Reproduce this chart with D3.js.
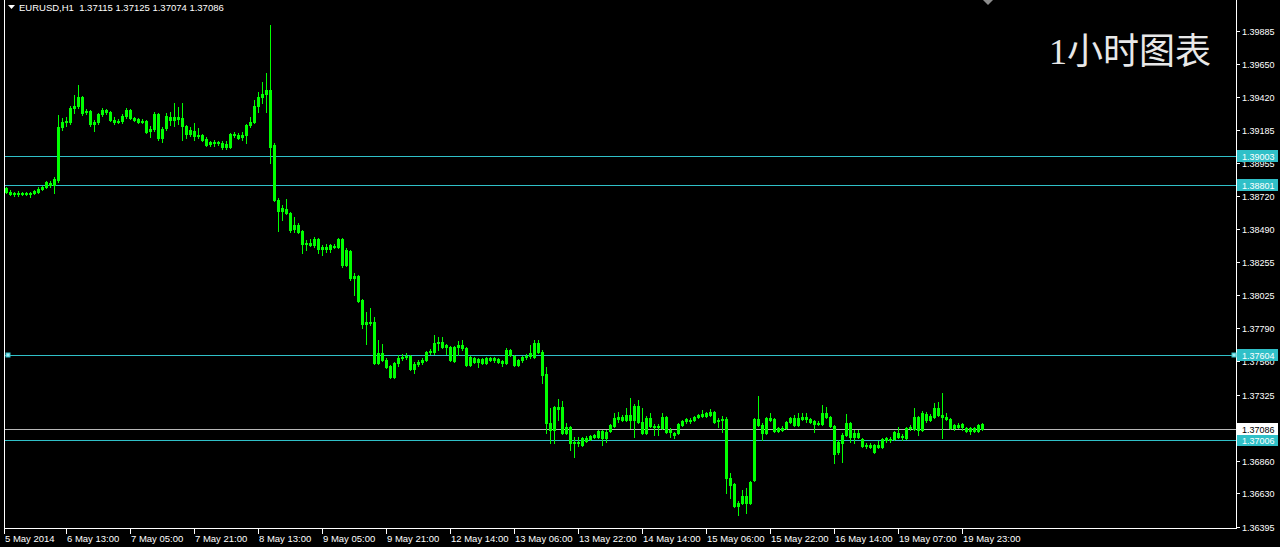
<!DOCTYPE html>
<html><head><meta charset="utf-8">
<script src="https://cdn.jsdelivr.net/npm/d3@7/dist/d3.min.js"></script>
<style>html,body{margin:0;padding:0;background:#000;overflow:hidden}text{white-space:pre}</style>
</head><body>
<svg id="c" width="1280" height="547"></svg>
<script>
const symbolTitle = "EURUSD,H1  1.37115 1.37125 1.37074 1.37086";
const overlayTitle = "1小时图表";

const opens = [
1.38778,1.38750,1.38736,1.38743,1.38736,1.38743,1.38736,1.38743,1.38750,1.38771,
1.38785,1.38813,1.38799,1.38834,1.39207,1.39242,1.39242,1.39341,1.39355,1.39418,
1.39312,1.39319,1.39228,1.39242,1.39298,1.39327,1.39312,1.39256,1.39242,1.39249,
1.39284,1.39327,1.39270,1.39263,1.39242,1.39249,1.39179,1.39193,1.39298,1.39130,
1.39200,1.39277,1.39256,1.39277,1.39270,1.39214,1.39158,1.39179,1.39144,1.39151,
1.39123,1.39087,1.39094,1.39094,1.39094,1.39066,1.39066,1.39158,1.39151,1.39137,
1.39151,1.39221,1.39242,1.39355,1.39418,1.39439,1.39467,1.39080,1.38694,1.38616,
1.38630,1.38602,1.38490,1.38518,1.38476,1.38384,1.38391,1.38377,1.38419,1.38349,
1.38363,1.38349,1.38370,1.38363,1.38419,1.38236,1.38335,1.38145,1.38159,1.37990,
1.37822,1.37836,1.37836,1.37547,1.37618,1.37568,1.37526,1.37449,1.37547,1.37583,
1.37590,1.37597,1.37505,1.37540,1.37554,1.37568,1.37625,1.37625,1.37688,1.37695,
1.37660,1.37660,1.37561,1.37660,1.37674,1.37653,1.37533,1.37583,1.37554,1.37575,
1.37547,1.37583,1.37568,1.37575,1.37561,1.37547,1.37639,1.37597,1.37533,1.37568,
1.37590,1.37597,1.37590,1.37688,1.37625,1.37470,1.37126,1.37076,1.37238,1.37238,
1.37055,1.37097,1.36985,1.36992,1.36971,1.37020,1.37013,1.37027,1.37027,1.37069,
1.37020,1.37069,1.37104,1.37154,1.37168,1.37147,1.37182,1.37147,1.37245,1.37133,
1.37055,1.37161,1.37104,1.37097,1.37090,1.37168,1.37062,1.37055,1.37055,1.37111,
1.37140,1.37147,1.37147,1.37168,1.37175,1.37175,1.37182,1.37203,1.37140,1.37147,
1.37154,1.36739,1.36696,1.36542,1.36563,1.36612,1.36563,1.36725,1.37154,1.37111,
1.37055,1.37161,1.37154,1.37069,1.37090,1.37090,1.37133,1.37161,1.37111,1.37154,
1.37168,1.37154,1.37140,1.37118,1.37118,1.37196,1.37168,1.37104,1.36922,1.36985,
1.37041,1.37126,1.37027,1.37055,1.37013,1.36964,1.36971,1.36971,1.36957,1.36957,
1.37006,1.37013,1.37013,1.37055,1.37027,1.37020,1.37090,1.37083,1.37168,1.37076,
1.37189,1.37147,1.37168,1.37231,1.37182,1.37168,1.37154,1.37090,1.37111,1.37097,
1.37090,1.37069,1.37090,1.37069,1.37115];

const highs = [
1.38785,1.38764,1.38750,1.38757,1.38750,1.38750,1.38750,1.38764,1.38785,1.38792,
1.38827,1.38827,1.38855,1.39291,1.39270,1.39277,1.39355,1.39432,1.39502,1.39425,
1.39334,1.39327,1.39256,1.39305,1.39341,1.39334,1.39319,1.39277,1.39263,1.39298,
1.39341,1.39334,1.39277,1.39270,1.39263,1.39256,1.39214,1.39312,1.39305,1.39207,
1.39305,1.39312,1.39376,1.39348,1.39376,1.39221,1.39207,1.39235,1.39200,1.39158,
1.39137,1.39108,1.39116,1.39108,1.39108,1.39108,1.39165,1.39172,1.39165,1.39172,
1.39228,1.39277,1.39397,1.39453,1.39523,1.39587,1.39924,1.39094,1.38708,1.38658,
1.38701,1.38609,1.38574,1.38532,1.38483,1.38412,1.38419,1.38433,1.38426,1.38377,
1.38384,1.38384,1.38384,1.38426,1.38426,1.38356,1.38342,1.38180,1.38166,1.37997,
1.37906,1.37934,1.37871,1.37709,1.37681,1.37583,1.37533,1.37554,1.37604,1.37611,
1.37618,1.37604,1.37554,1.37568,1.37583,1.37632,1.37646,1.37744,1.37730,1.37730,
1.37681,1.37667,1.37667,1.37702,1.37709,1.37660,1.37597,1.37590,1.37583,1.37583,
1.37590,1.37590,1.37590,1.37583,1.37568,1.37653,1.37646,1.37604,1.37575,1.37597,
1.37611,1.37674,1.37709,1.37709,1.37639,1.37519,1.37231,1.37245,1.37294,1.37280,
1.37126,1.37104,1.37027,1.37027,1.37027,1.37034,1.37041,1.37048,1.37076,1.37076,
1.37076,1.37118,1.37196,1.37203,1.37182,1.37231,1.37301,1.37259,1.37287,1.37231,
1.37175,1.37196,1.37118,1.37118,1.37196,1.37175,1.37090,1.37062,1.37126,1.37147,
1.37161,1.37161,1.37175,1.37189,1.37217,1.37203,1.37224,1.37210,1.37161,1.37175,
1.37168,1.36774,1.36703,1.36577,1.36654,1.36668,1.36718,1.37161,1.37315,1.37126,
1.37168,1.37196,1.37161,1.37097,1.37104,1.37140,1.37168,1.37182,1.37196,1.37196,
1.37196,1.37161,1.37147,1.37140,1.37252,1.37238,1.37175,1.37111,1.37006,1.37055,
1.37189,1.37133,1.37076,1.37076,1.37020,1.36985,1.36985,1.36978,1.36999,1.37020,
1.37027,1.37027,1.37069,1.37097,1.37048,1.37097,1.37111,1.37231,1.37175,1.37210,
1.37203,1.37189,1.37266,1.37273,1.37336,1.37196,1.37161,1.37118,1.37126,1.37126,
1.37097,1.37097,1.37097,1.37118,1.37125];

const lows = [
1.38743,1.38729,1.38722,1.38722,1.38729,1.38729,1.38715,1.38736,1.38743,1.38764,
1.38778,1.38785,1.38743,1.38820,1.39186,1.39214,1.39228,1.39305,1.39341,1.39291,
1.39298,1.39214,1.39179,1.39228,1.39284,1.39298,1.39249,1.39228,1.39235,1.39235,
1.39270,1.39263,1.39249,1.39235,1.39235,1.39165,1.39137,1.39179,1.39116,1.39101,
1.39186,1.39221,1.39214,1.39228,1.39116,1.39130,1.39144,1.39116,1.39130,1.39108,
1.39073,1.39073,1.39073,1.39080,1.39052,1.39052,1.39059,1.39137,1.39123,1.39116,
1.39094,1.39207,1.39235,1.39312,1.39376,1.39312,1.38954,1.38687,1.38476,1.38553,
1.38595,1.38469,1.38469,1.38461,1.38321,1.38342,1.38370,1.38363,1.38321,1.38307,
1.38328,1.38328,1.38356,1.38356,1.38222,1.38229,1.38131,1.38026,1.37976,1.37794,
1.37681,1.37815,1.37540,1.37540,1.37561,1.37512,1.37442,1.37442,1.37526,1.37568,
1.37575,1.37498,1.37477,1.37526,1.37540,1.37561,1.37611,1.37611,1.37639,1.37653,
1.37611,1.37561,1.37554,1.37604,1.37639,1.37526,1.37526,1.37547,1.37519,1.37540,
1.37540,1.37561,1.37554,1.37547,1.37526,1.37540,1.37597,1.37526,1.37526,1.37554,
1.37575,1.37582,1.37582,1.37618,1.37407,1.37055,1.36985,1.36985,1.37147,1.37048,
1.37048,1.36936,1.36886,1.36964,1.36964,1.36992,1.37006,1.37020,1.37020,1.36971,
1.36992,1.37062,1.37097,1.37133,1.37140,1.37140,1.37090,1.37027,1.37126,1.37048,
1.37048,1.37097,1.37041,1.37041,1.37083,1.37055,1.37027,1.37020,1.37048,1.37104,
1.37126,1.37126,1.37140,1.37161,1.37168,1.37168,1.37175,1.37126,1.37097,1.37062,
1.36633,1.36598,1.36535,1.36479,1.36556,1.36493,1.36556,1.36718,1.37104,1.37006,
1.37048,1.37140,1.37062,1.37062,1.37069,1.37083,1.37126,1.37104,1.37104,1.37147,
1.37133,1.37126,1.37062,1.37111,1.37111,1.37161,1.37097,1.36844,1.36907,1.36851,
1.37034,1.36992,1.36985,1.37020,1.36957,1.36950,1.36950,1.36915,1.36950,1.36950,
1.36992,1.36992,1.37006,1.37020,1.37006,1.37013,1.37076,1.37076,1.37041,1.37069,
1.37133,1.37140,1.37161,1.37175,1.37020,1.37147,1.37083,1.37076,1.37090,1.37076,
1.37062,1.37048,1.37062,1.37062,1.37074];

const closes = [
1.38750,1.38736,1.38743,1.38736,1.38743,1.38736,1.38743,1.38757,1.38771,1.38785,
1.38820,1.38799,1.38841,1.39207,1.39242,1.39249,1.39341,1.39355,1.39418,1.39305,
1.39319,1.39228,1.39242,1.39298,1.39327,1.39312,1.39256,1.39242,1.39249,1.39284,
1.39327,1.39270,1.39256,1.39242,1.39249,1.39172,1.39193,1.39298,1.39130,1.39193,
1.39284,1.39256,1.39277,1.39263,1.39214,1.39158,1.39186,1.39144,1.39151,1.39116,
1.39080,1.39101,1.39101,1.39101,1.39066,1.39087,1.39158,1.39151,1.39130,1.39151,
1.39221,1.39242,1.39355,1.39418,1.39439,1.39467,1.39066,1.38694,1.38616,1.38637,
1.38602,1.38483,1.38518,1.38469,1.38384,1.38391,1.38377,1.38419,1.38349,1.38363,
1.38349,1.38377,1.38363,1.38419,1.38236,1.38342,1.38145,1.38159,1.37983,1.37822,
1.37836,1.37829,1.37547,1.37618,1.37568,1.37519,1.37449,1.37547,1.37583,1.37590,
1.37597,1.37505,1.37540,1.37554,1.37568,1.37625,1.37632,1.37688,1.37695,1.37660,
1.37674,1.37568,1.37660,1.37674,1.37653,1.37533,1.37590,1.37554,1.37575,1.37547,
1.37583,1.37568,1.37583,1.37554,1.37547,1.37639,1.37604,1.37533,1.37568,1.37590,
1.37597,1.37618,1.37688,1.37625,1.37463,1.37126,1.37076,1.37238,1.37224,1.37055,
1.37097,1.36985,1.36992,1.36985,1.37020,1.36999,1.37034,1.37041,1.37069,1.37020,
1.37062,1.37111,1.37161,1.37168,1.37147,1.37182,1.37147,1.37245,1.37133,1.37055,
1.37161,1.37104,1.37097,1.37104,1.37168,1.37062,1.37076,1.37041,1.37118,1.37140,
1.37154,1.37140,1.37168,1.37182,1.37189,1.37196,1.37203,1.37133,1.37147,1.37154,
1.36739,1.36689,1.36542,1.36563,1.36612,1.36563,1.36711,1.37154,1.37111,1.37055,
1.37161,1.37147,1.37069,1.37090,1.37076,1.37133,1.37161,1.37111,1.37161,1.37168,
1.37154,1.37133,1.37118,1.37126,1.37196,1.37168,1.37104,1.36907,1.36992,1.37041,
1.37126,1.37027,1.37055,1.37027,1.36964,1.36971,1.36957,1.36922,1.36971,1.37013,
1.37020,1.37006,1.37062,1.37027,1.37034,1.37090,1.37097,1.37168,1.37076,1.37196,
1.37147,1.37175,1.37231,1.37182,1.37168,1.37154,1.37090,1.37111,1.37097,1.37118,
1.37069,1.37090,1.37069,1.37111,1.37086];

const priceTicks = [1.39885,1.39650,1.39420,1.39185,1.38955,1.38720,1.38490,1.38255,1.38025,1.37790,1.37560,1.37325,1.36860,1.36630,1.36395];
const timeLabels = ["5 May 2014","6 May 13:00","7 May 05:00","7 May 21:00","8 May 13:00","9 May 05:00","9 May 21:00","12 May 14:00","13 May 06:00","13 May 22:00","14 May 14:00","15 May 06:00","15 May 22:00","16 May 14:00","19 May 07:00","19 May 23:00"];
const timeLabelBars = [0,16,32,48,64,80,96,112,128,144,160,176,192,208,224,240];
const levelLines = [1.39003,1.38801,1.37604,1.37006];
const bidPrice = [1.37086];
const priceRange = [1.36387, 1.40100];
const slotCount = [308];

const W = 1280, H = 547;
const plotLeft = 4, plotRight = 1236, plotBottom = 528;
const svg = d3.select("#c");
svg.append("rect").attr("width", W).attr("height", H).attr("fill", "#000");

const x = d3.scaleLinear().domain([0, slotCount[0] - 1]).range([6, 6 + 4 * (slotCount[0] - 1)]);
const y = d3.scaleLinear().domain(priceRange).range([plotBottom, 0]);

const FONT = "'Liberation Sans', Arial, sans-serif";
const axisColor = "#ffffff";
const lineCyan = "#30c0c8";
const lime = "#00ff00";

// level lines
const g = svg.append("g");
levelLines.forEach(p => {
  const yy = Math.round(y(p)) + 0.5;
  g.append("line").attr("x1", plotLeft).attr("x2", plotRight).attr("y1", yy).attr("y2", yy)
    .attr("stroke", lineCyan).attr("stroke-width", 1);
});
bidPrice.forEach(p => {
  const yy = Math.round(y(p)) + 0.5;
  g.append("line").attr("x1", plotLeft).attr("x2", plotRight).attr("y1", yy).attr("y2", yy)
    .attr("stroke", "#b8b8b8").attr("stroke-width", 1);
});

// candles
const data = opens.map((o, i) => ({i, o, h: highs[i], l: lows[i], c: closes[i]}));
const cg = svg.append("g");
data.forEach(d => {
  const cx = Math.round(x(d.i));
  const yh = Math.round(y(d.h)), yl = Math.round(y(d.l));
  const yo = Math.round(y(d.o)), yc = Math.round(y(d.c));
  const top = Math.min(yo, yc), bot = Math.max(yo, yc);
  cg.append("rect").attr("x", cx).attr("y", yh).attr("width", 1).attr("height", yl - yh + 1).attr("fill", lime);
  cg.append("rect").attr("x", cx - 1).attr("y", top).attr("width", 3).attr("height", Math.max(bot - top + 1, 1))
    .attr("fill", lime);
});

// frame
svg.append("line").attr("x1", plotLeft + 0.5).attr("x2", plotLeft + 0.5).attr("y1", 0).attr("y2", plotBottom + 1).attr("stroke", axisColor);
svg.append("line").attr("x1", plotLeft).attr("x2", plotRight + 1).attr("y1", plotBottom + 0.5).attr("y2", plotBottom + 0.5).attr("stroke", axisColor);
svg.append("line").attr("x1", plotRight + 0.5).attr("x2", plotRight + 0.5).attr("y1", 0).attr("y2", plotBottom + 1).attr("stroke", axisColor);

// price axis
const pa = svg.append("g");
priceTicks.forEach(p => {
  const yy = Math.round(y(p));
  pa.append("line").attr("x1", plotRight + 1).attr("x2", plotRight + 4).attr("y1", yy + 0.5).attr("y2", yy + 0.5).attr("stroke", axisColor);
  pa.append("text").attr("x", plotRight + 6).attr("y", yy + 4).attr("fill", "#fff")
    .attr("font-family", FONT).attr("font-size", "9px").text(p.toFixed(5));
});

// time axis
const ta = svg.append("g");
timeLabels.forEach((t, k) => {
  const xx = Math.max(Math.round(x(timeLabelBars[k])) - 4, plotLeft);
  ta.append("line").attr("x1", xx + 0.5).attr("x2", xx + 0.5).attr("y1", plotBottom + 1).attr("y2", plotBottom + 6).attr("stroke", axisColor);
  ta.append("text").attr("x", xx + 1).attr("y", 542).attr("fill", "#fff")
    .attr("font-family", FONT).attr("font-size", "9.5px").text(t);
});

// level labels
levelLines.forEach(p => {
  const yy = Math.round(y(p));
  pa.append("rect").attr("x", plotRight + 1).attr("y", yy - 6).attr("width", 41).attr("height", 12).attr("fill", lineCyan);
  pa.append("text").attr("x", plotRight + 6).attr("y", yy + 4).attr("fill", "#fff")
    .attr("font-family", FONT).attr("font-size", "9px").text(p.toFixed(5));
});
bidPrice.forEach(p => {
  const yy = Math.round(y(p));
  pa.append("rect").attr("x", plotRight + 1).attr("y", yy - 6).attr("width", 41).attr("height", 12).attr("fill", "#fff");
  pa.append("text").attr("x", plotRight + 6).attr("y", yy + 4).attr("fill", "#000")
    .attr("font-family", FONT).attr("font-size", "9px").text(p.toFixed(5));
});

// selected-object handles on the 1.37604 line
const sel = levelLines[2];
[plotLeft + 2, plotRight - 4].forEach(hx => {
  const yy = Math.round(y(sel));
  svg.append("rect").attr("x", hx).attr("y", yy - 2).attr("width", 4).attr("height", 4)
    .attr("fill", "#9fe8f0").attr("stroke", "#30c0c8");
});

// header
svg.append("path").attr("d", "M8,5 L15,5 L11.5,9 Z").attr("fill", "#fff");
svg.append("text").attr("x", 19).attr("y", 11).attr("fill", "#fff")
  .attr("font-family", FONT).attr("font-size", "9.5px").text(symbolTitle);

// chart shift marker
svg.append("path").attr("d", "M983,0 L993,0 L988,5 Z").attr("fill", "#8c8c8c");

// overlay title
svg.append("text").attr("x", 1049).attr("y", 64).attr("fill", "#e8e8e8")
  .attr("font-family", "'Liberation Serif', 'Noto Sans CJK SC', serif").attr("font-size", "36px").text(overlayTitle);
</script>
</body></html>
